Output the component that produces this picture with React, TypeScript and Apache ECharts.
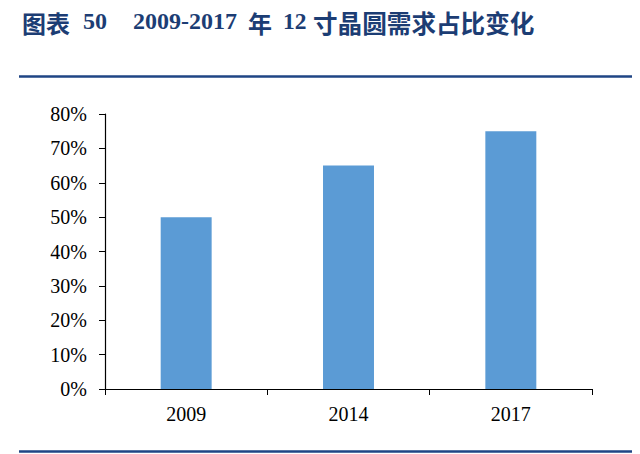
import React, { useEffect, useRef } from "react";
import * as echarts from "echarts";

const categories = ["2009", "2014", "2017"];
const shareValues = [50, 65, 75];
const yTicks = [0, 10, 20, 30, 40, 50, 60, 70, 80];
const titlePieces = [
  { text: "图表", x: 22, cjk: true, size: 24 },
  { text: "50", x: 83, cjk: false, size: 24 },
  { text: "2009-2017", x: 133, cjk: false, size: 24 },
  { text: "年", x: 248, cjk: true, size: 24 },
  { text: "12", x: 283, cjk: false, size: 23.5 },
  { text: "寸晶圆需求占比变化", x: 313, cjk: true, size: 24.6 },
];

export default function App() {
  const ref = useRef<HTMLDivElement>(null);
  useEffect(() => {
    if (!ref.current) return;
    const chart = echarts.init(ref.current, undefined, { renderer: "svg" });
    const navy = "#1C3D74";
    const lineNavy = "#1F4585";
    const serif = "'Liberation Serif', 'Times New Roman', serif";
    const cjk = "'Noto Sans CJK SC', sans-serif";
    chart.setOption({
      animation: false,
      backgroundColor: "#ffffff",
      graphic: [
        ...titlePieces.map((p) => ({
          type: "text",
          x: p.x,
          y: p.cjk ? 22 : 21,
          style: {
            text: p.text,
            fill: navy,
            font: `bold ${p.size}px ${p.cjk ? cjk : serif}`,
            verticalAlign: "middle",
            align: "left",
          },
        })),
        {
          type: "line",
          shape: { x1: 19, y1: 76.5, x2: 632, y2: 76.5 },
          style: { stroke: lineNavy, lineWidth: 2.5 },
        },
        {
          type: "line",
          shape: { x1: 19, y1: 451.5, x2: 632, y2: 451.5 },
          style: { stroke: lineNavy, lineWidth: 2.5 },
        },
      ],
      grid: { left: 105, right: 48, top: 114, bottom: 65 },
      xAxis: {
        type: "category",
        data: categories,
        axisLine: { lineStyle: { color: "#000", width: 1.2 } },
        axisTick: { show: true, length: 6, lineStyle: { color: "#000" } },
        axisLabel: { color: "#000", fontFamily: serif, fontSize: 20, margin: 15 },
      },
      yAxis: {
        type: "value",
        min: yTicks[0],
        max: yTicks[yTicks.length - 1],
        interval: 10,
        splitLine: { show: false },
        axisLine: { show: true, lineStyle: { color: "#000", width: 1.2 } },
        axisTick: { show: true, length: 6, lineStyle: { color: "#000" } },
        axisLabel: {
          color: "#000",
          fontFamily: serif,
          fontSize: 20,
          margin: 18,
          formatter: (v: number) => `${v}%`,
        },
      },
      series: [
        {
          type: "bar",
          data: shareValues,
          barWidth: "31.4%",
          itemStyle: { color: "#5B9BD5" },
        },
      ],
    });
    return () => chart.dispose();
  }, []);
  return (
    <div
      ref={ref}
      style={{ position: "fixed", left: 0, top: 0, width: 640, height: 454 }}
    />
  );
}
